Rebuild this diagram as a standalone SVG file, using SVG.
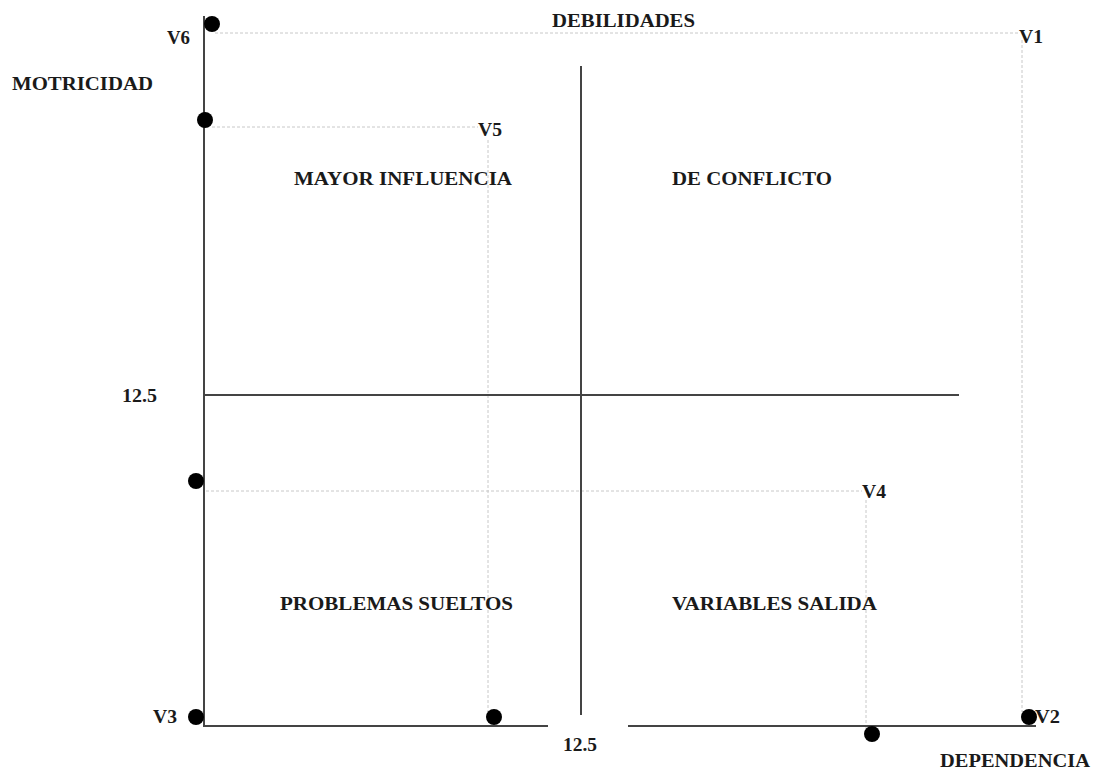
<svg xmlns="http://www.w3.org/2000/svg" width="1098" height="770" viewBox="0 0 1098 770">
<style>
.t{font-family:"Liberation Serif","Times New Roman",serif;font-weight:bold;font-size:19px;fill:#1a1a1a}
.ax{stroke:#444;stroke-width:2;fill:none}
.dot{stroke:#c8c8c8;stroke-width:1;stroke-dasharray:3,2;fill:none}
.pt{fill:#000}
</style>
<rect width="1098" height="770" fill="#fff"/>
<g id="connectors">
<line class="dot" x1="215" y1="33" x2="1020" y2="33"/>
<line class="dot" x1="1022" y1="40" x2="1022" y2="712"/>
<line class="dot" x1="212" y1="127" x2="478" y2="127"/>
<line class="dot" x1="488" y1="140" x2="488" y2="712"/>
<line class="dot" x1="206" y1="491" x2="862" y2="491"/>
<line class="dot" x1="866" y1="500" x2="866" y2="728"/>
<line class="ax" x1="204" y1="16" x2="204" y2="727"/>
<line class="ax" x1="203" y1="726" x2="548" y2="726"/>
<line class="ax" x1="628" y1="726" x2="1036" y2="726"/>
<line class="ax" x1="581" y1="66" x2="581" y2="715"/>
<line class="ax" x1="204" y1="395" x2="959" y2="395"/>
</g>
<g id="axis-labels">
<text class="t" x="552" y="27" textLength="143" lengthAdjust="spacingAndGlyphs">DEBILIDADES</text>
<text class="t" x="12" y="90" textLength="141" lengthAdjust="spacingAndGlyphs">MOTRICIDAD</text>
<text class="t" x="122" y="402" textLength="35" lengthAdjust="spacingAndGlyphs">12.5</text>
<text class="t" x="563" y="751" textLength="34" lengthAdjust="spacingAndGlyphs">12.5</text>
<text class="t" x="940" y="767" textLength="150" lengthAdjust="spacingAndGlyphs">DEPENDENCIA</text>
</g>
<g id="quadrants">
<text class="t" x="294" y="185" textLength="218" lengthAdjust="spacingAndGlyphs">MAYOR INFLUENCIA</text>
<text class="t" x="672" y="185" textLength="160" lengthAdjust="spacingAndGlyphs">DE CONFLICTO</text>
<text class="t" x="280" y="610" textLength="233" lengthAdjust="spacingAndGlyphs">PROBLEMAS SUELTOS</text>
<text class="t" x="672" y="610" textLength="205" lengthAdjust="spacingAndGlyphs">VARIABLES SALIDA</text>
</g>
<g id="V6"><circle class="pt" cx="212" cy="24" r="8"/><text class="t" x="167" y="44" textLength="23" lengthAdjust="spacingAndGlyphs">V6</text></g>
<g id="V1"><text class="t" x="1019" y="43" textLength="24" lengthAdjust="spacingAndGlyphs">V1</text></g>
<g id="V5"><circle class="pt" cx="205" cy="120" r="8"/><text class="t" x="478" y="136" textLength="24" lengthAdjust="spacingAndGlyphs">V5</text></g>
<g id="V4"><circle class="pt" cx="196" cy="481" r="8"/><text class="t" x="862" y="498" textLength="24" lengthAdjust="spacingAndGlyphs">V4</text></g>
<g id="V3"><circle class="pt" cx="196" cy="717" r="8"/><text class="t" x="153" y="723" textLength="24" lengthAdjust="spacingAndGlyphs">V3</text></g>
<g id="P5"><circle class="pt" cx="494" cy="717" r="8"/></g>
<g id="P4"><circle class="pt" cx="872" cy="734" r="8"/></g>
<g id="V2"><circle class="pt" cx="1029" cy="717" r="8"/><text class="t" x="1035" y="723" textLength="25" lengthAdjust="spacingAndGlyphs">V2</text></g>
</svg>
